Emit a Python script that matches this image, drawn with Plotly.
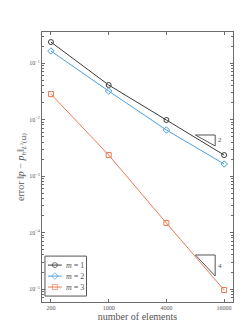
import math
import plotly.graph_objects as go

elements = [256, 1024, 4096, 16384]
xtick_labels = ["200", "1000", "4000", "16000"]
err_m1 = [0.235, 0.0408, 0.0098, 0.00235]
err_m2 = [0.163, 0.0319, 0.00652, 0.00163]
err_m3 = [0.0282, 0.00235, 1.47e-4, 9.6e-6]
series_names = ["<i>m</i> = 1", "<i>m</i> = 2", "<i>m</i> = 3"]
colors = ["#3a3a3a", "#4A9FE3", "#EC7A52"]
symbols = ["circle-open", "diamond-open", "square-open"]

ytick_vals = [1e-1, 1e-2, 1e-3, 1e-4, 1e-5]
ytick_labels = ["10<sup>−1</sup>", "10<sup>−2</sup>", "10<sup>−3</sup>", "10<sup>−4</sup>", "10<sup>−5</sup>"]

tri2_x = [8222, 13216, 13216, 8222]
tri2_y = [0.00532, 0.00532, 0.0034, 0.00532]
tri4_x = [8222, 13216, 13216, 8222]
tri4_y = [4.0e-5, 4.0e-5, 1.70e-5, 4.0e-5]
tri_labels = ["2", "4"]
tri_label_y = [0.0043, 2.6e-5]

FONT = "Liberation Serif"
AX = "#6b6b6b"
TXT = "#555555"

fig = go.Figure()
for ys, name, c, s in zip([err_m1, err_m2, err_m3], series_names, colors, symbols):
    fig.add_trace(go.Scatter(
        x=elements, y=ys, name=name, mode="lines+markers", showlegend=False,
        line=dict(color=c, width=1),
        marker=dict(symbol=s, size=5, color=c, line=dict(width=1, color=c)),
    ))

for tx, ty in [(tri2_x, tri2_y), (tri4_x, tri4_y)]:
    fig.add_trace(go.Scatter(x=tx, y=ty, mode="lines", showlegend=False,
                             line=dict(color="#555555", width=1), hoverinfo="skip"))

for lab, ly in zip(tri_labels, tri_label_y):
    fig.add_annotation(x=math.log10(tri2_x[1]), y=math.log10(ly), text=lab, showarrow=False, xshift=1,
                       font=dict(family=FONT, size=7, color=TXT), xanchor="left")

# manual legend drawn on an auxiliary axis (units ~ pixels inside legend box)
for i, (name, c, s) in enumerate(zip(series_names, colors, symbols)):
    yy = 9 + 11 * i
    fig.add_trace(go.Scatter(
        x=[3, 10, 17], y=[yy, yy, yy], xaxis="x2", yaxis="y2", mode="lines+markers",
        showlegend=False, hoverinfo="skip",
        line=dict(color=c, width=1),
        marker=dict(symbol=s, size=[0, 5, 0], color=c, line=dict(width=1, color=c)),
    ))
    fig.add_annotation(x=19, y=yy, xref="x2", yref="y2", text=name, showarrow=False,
                       xanchor="left", font=dict(family=FONT, size=8, color=TXT))
fig.add_shape(type="rect", xref="x2 domain", yref="y2 domain", x0=0, x1=1, y0=0, y1=1,
              line=dict(color="#555", width=1), fillcolor="rgba(0,0,0,0)")

fig.update_layout(xaxis=dict(
    type="log", range=[2.315, 4.307],
    tickvals=elements, ticktext=xtick_labels,
    ticks="inside", ticklen=3, tickcolor=AX, linecolor=AX, linewidth=1,
    mirror="allticks", showline=True, showgrid=False, zeroline=False,
    tickfont=dict(family=FONT, size=6, color=TXT),
    title=dict(text="number of elements", font=dict(family=FONT, size=10, color=TXT), standoff=1),
))
fig.update_layout(yaxis=dict(
    type="log", range=[-5.230, -0.451],
    tickvals=ytick_vals, ticktext=ytick_labels,
    ticks="inside", ticklen=3, tickcolor=AX, linecolor=AX, linewidth=1,
    mirror="allticks", showline=True, showgrid=False, zeroline=False,
    minor=dict(ticks="inside", ticklen=2, tickcolor=AX, dtick="D1", showgrid=False),
    tickfont=dict(family=FONT, size=6, color=TXT),
    title=dict(text="error ‖<i>p</i> − <i>p</i><sub><i>h</i></sub>‖<sub><i>L</i><sup>2</sup>(Ω)</sub>",
               font=dict(family=FONT, size=10, color=TXT), standoff=2),
))
fig.update_layout(
    xaxis2=dict(domain=[0.0155, 0.233], range=[0, 42], visible=False, anchor="y2", fixedrange=True),
    yaxis2=dict(domain=[0.022, 0.170], range=[40, 0], visible=False, anchor="x2", fixedrange=True),
    width=249, height=332,
    margin=dict(l=32, r=24, t=24, b=38),
    paper_bgcolor="white", plot_bgcolor="white",
    showlegend=False,
)
fig.write_html("out.html")
